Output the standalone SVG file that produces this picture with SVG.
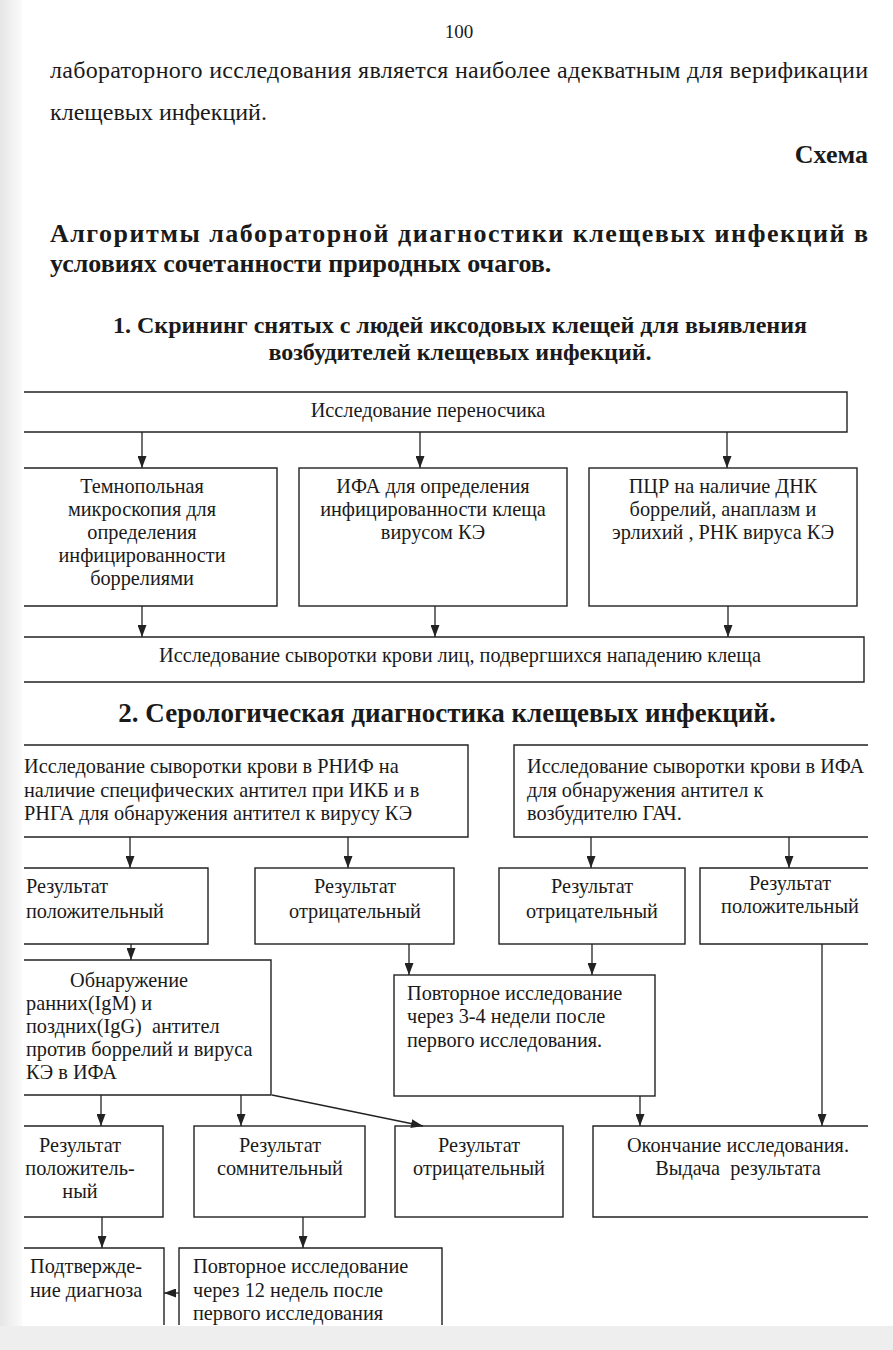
<svg xmlns="http://www.w3.org/2000/svg" width="893" height="1350" viewBox="0 0 893 1350">
<style>
text{font-family:"Liberation Serif","Times New Roman",serif;fill:#1a1a1a}
.t{font-size:20.3px}
.c{text-anchor:middle}
.p{font-size:24px}
.h{font-weight:bold}
.box{fill:none;stroke:#222;stroke-width:1.4}
.ln{fill:none;stroke:#222;stroke-width:1.3}
</style>
<defs>
<marker id="ah" viewBox="0 0 12 9" refX="12" refY="4.5" markerWidth="12" markerHeight="9" markerUnits="userSpaceOnUse" orient="auto">
<path d="M0,0 L12,4.5 L0,9 z" fill="#222"/>
</marker>
<linearGradient id="lg" x1="0" y1="0" x2="1" y2="0">
<stop offset="0" stop-color="#e6e6e6"/>
<stop offset="1" stop-color="#fafafa"/>
</linearGradient>
</defs>
<rect x="0" y="0" width="893" height="1350" fill="#ffffff"/>
<rect x="0" y="0" width="22" height="1350" fill="url(#lg)"/>
<rect x="0" y="1326" width="893" height="24" fill="#eeeeee"/>

<g id="header">
<text x="459" y="38" class="c" style="font-size:19px">100</text>
<text x="50" y="78" class="p" textLength="818" lengthAdjust="spacing">лабораторного исследования является наиболее адекватным для верификации</text>
<text x="50" y="120" class="p">клещевых инфекций.</text>
<text x="868" y="163" class="h" style="font-size:26px;text-anchor:end">Схема</text>
<text x="50" y="242" class="h" style="font-size:26px" textLength="818" lengthAdjust="spacing">Алгоритмы лабораторной диагностики клещевых инфекций в</text>
<text x="50" y="272" class="h" style="font-size:26px">условиях сочетанности природных очагов.</text>
<text x="460" y="333" class="h c" style="font-size:24px">1. Скрининг снятых с людей иксодовых клещей для выявления</text>
<text x="460" y="360" class="h c" style="font-size:24px">возбудителей клещевых инфекций.</text>
<text x="447" y="722" class="h c" style="font-size:27px">2. Серологическая диагностика клещевых инфекций.</text>
</g>

<g id="n_vector">
<path class="box" d="M24,392 H847 V432 H24"/>
<text x="428" y="417" class="t c">Исследование переносчика</text>
</g>
<g id="n_micro">
<path class="box" d="M24,468 H277 V606 H24"/>
<text class="t c"><tspan x="142" y="493">Темнопольная</tspan><tspan x="142" y="516">микроскопия для</tspan><tspan x="142" y="539">определения</tspan><tspan x="142" y="562">инфицированности</tspan><tspan x="142" y="585">боррелиями</tspan></text>
</g>
<g id="n_ifa">
<rect class="box" x="299" y="468" width="268" height="138"/>
<text class="t c"><tspan x="433" y="493">ИФА для определения</tspan><tspan x="433" y="516">инфицированности клеща</tspan><tspan x="433" y="539">вирусом КЭ</tspan></text>
</g>
<g id="n_pcr">
<rect class="box" x="589" y="468" width="268" height="138"/>
<text class="t c"><tspan x="723" y="493">ПЦР на наличие ДНК</tspan><tspan x="723" y="516">боррелий, анаплазм и</tspan><tspan x="723" y="539">эрлихий ,  РНК вируса КЭ</tspan></text>
</g>
<g id="n_serum">
<path class="box" d="M24,637 H864 V682 H24"/>
<text x="460" y="662" class="t c">Исследование сыворотки крови лиц, подвергшихся нападению клеща</text>
</g>

<g id="n_rnif">
<path class="box" d="M24,745 H468 V837 H24"/>
<text class="t"><tspan x="24" y="773">Исследование сыворотки крови в РНИФ на</tspan><tspan x="24" y="797">наличие специфических антител при ИКБ и в</tspan><tspan x="24" y="820">РНГА для обнаружения антител к вирусу КЭ</tspan></text>
</g>
<g id="n_ifa2">
<path class="box" d="M868,745 H514 V837 H868"/>
<text class="t"><tspan x="527" y="773">Исследование сыворотки крови в ИФА</tspan><tspan x="527" y="797">для обнаружения антител к</tspan><tspan x="527" y="820">возбудителю ГАЧ.</tspan></text>
</g>
<g id="n_pos1">
<path class="box" d="M24,868 H208 V944 H24"/>
<text class="t"><tspan x="26" y="893">Результат</tspan><tspan x="26" y="918">положительный</tspan></text>
</g>
<g id="n_neg1">
<rect class="box" x="255" y="868" width="199" height="76"/>
<text class="t c"><tspan x="355" y="893">Результат</tspan><tspan x="355" y="918">отрицательный</tspan></text>
</g>
<g id="n_neg2">
<rect class="box" x="499" y="868" width="186" height="76"/>
<text class="t c"><tspan x="592" y="893">Результат</tspan><tspan x="592" y="918">отрицательный</tspan></text>
</g>
<g id="n_pos2">
<path class="box" d="M868,868 H700 V944 H868"/>
<text class="t c"><tspan x="790" y="890">Результат</tspan><tspan x="790" y="913">положительный</tspan></text>
</g>
<g id="n_detect">
<path class="box" d="M24,960 H271 V1095 H24"/>
<text class="t"><tspan x="129" y="987" text-anchor="middle">Обнаружение</tspan><tspan x="26" y="1010">ранних(IgM) и</tspan><tspan x="26" y="1033" xml:space="preserve">поздних(IgG)  антител</tspan><tspan x="26" y="1056">против боррелий и вируса</tspan><tspan x="26" y="1079">КЭ в ИФА</tspan></text>
</g>
<g id="n_repeat34">
<rect class="box" x="394" y="975" width="261" height="121"/>
<text class="t"><tspan x="407" y="1000">Повторное исследование</tspan><tspan x="407" y="1023">через 3-4 недели после</tspan><tspan x="407" y="1047">первого исследования.</tspan></text>
</g>
<g id="n_pos3">
<path class="box" d="M24,1126 H163 V1217 H24"/>
<text class="t c"><tspan x="80" y="1152">Результат</tspan><tspan x="80" y="1175">положитель-</tspan><tspan x="80" y="1198">ный</tspan></text>
</g>
<g id="n_doubt">
<rect class="box" x="194" y="1126" width="171" height="91"/>
<text class="t c"><tspan x="280" y="1152">Результат</tspan><tspan x="280" y="1175">сомнительный</tspan></text>
</g>
<g id="n_neg3">
<rect class="box" x="395" y="1126" width="168" height="91"/>
<text class="t c"><tspan x="479" y="1152">Результат</tspan><tspan x="479" y="1175">отрицательный</tspan></text>
</g>
<g id="n_end">
<path class="box" d="M868,1126 H593 V1217 H868"/>
<text class="t c" xml:space="preserve"><tspan x="738" y="1152">Окончание исследования.</tspan><tspan x="738" y="1175">Выдача  результата</tspan></text>
</g>
<g id="n_confirm">
<path class="box" d="M24,1248 H164 V1325"/>
<text class="t"><tspan x="30" y="1273">Подтвержде-</tspan><tspan x="30" y="1297">ние диагноза</tspan></text>
</g>
<g id="n_repeat12">
<path class="box" d="M179,1325 V1248 H442 V1325"/>
<text class="t"><tspan x="193" y="1273">Повторное исследование</tspan><tspan x="193" y="1297">через 12 недель после</tspan><tspan x="193" y="1320">первого исследования</tspan></text>
</g>

<g id="connectors">
<path class="ln" marker-end="url(#ah)" d="M142,432 V468"/>
<path class="ln" marker-end="url(#ah)" d="M420,432 V468"/>
<path class="ln" marker-end="url(#ah)" d="M727,432 V468"/>
<path class="ln" marker-end="url(#ah)" d="M142,606 V637"/>
<path class="ln" marker-end="url(#ah)" d="M435,606 V637"/>
<path class="ln" marker-end="url(#ah)" d="M728,606 V637"/>
<path class="ln" marker-end="url(#ah)" d="M130,837 V868"/>
<path class="ln" marker-end="url(#ah)" d="M348,837 V868"/>
<path class="ln" marker-end="url(#ah)" d="M591,837 V868"/>
<path class="ln" marker-end="url(#ah)" d="M789,837 V868"/>
<path class="ln" marker-end="url(#ah)" d="M131,944 V960"/>
<path class="ln" marker-end="url(#ah)" d="M409,944 V975"/>
<path class="ln" marker-end="url(#ah)" d="M592,944 V975"/>
<path class="ln" marker-end="url(#ah)" d="M822,944 V1126"/>
<path class="ln" marker-end="url(#ah)" d="M640,1096 V1126"/>
<path class="ln" marker-end="url(#ah)" d="M101,1095 V1126"/>
<path class="ln" marker-end="url(#ah)" d="M241,1095 V1126"/>
<path class="ln" marker-end="url(#ah)" d="M272,1095 L423,1126"/>
<path class="ln" marker-end="url(#ah)" d="M102,1217 V1248"/>
<path class="ln" marker-end="url(#ah)" d="M303,1217 V1248"/>
<path class="ln" marker-end="url(#ah)" d="M179,1293 H164"/>
</g>
</svg>
